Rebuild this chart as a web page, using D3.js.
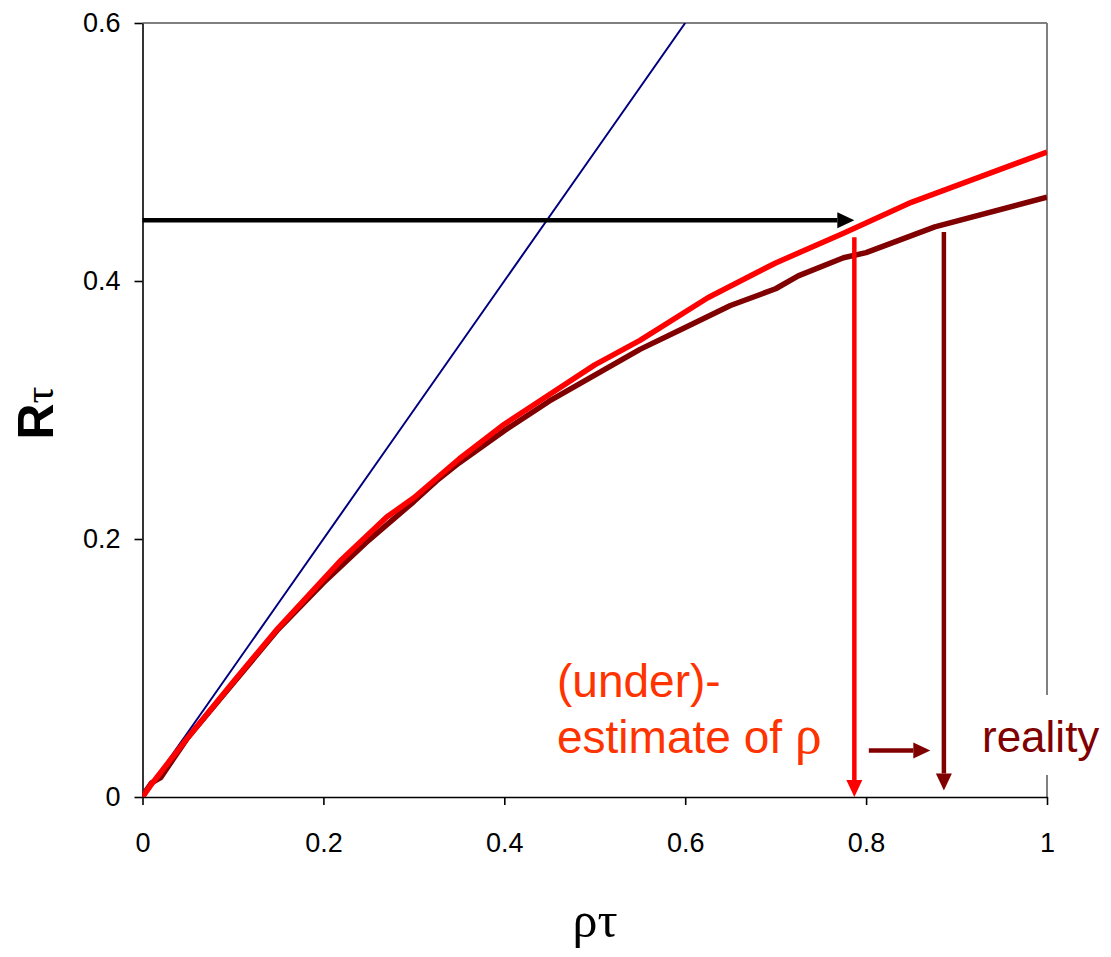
<!DOCTYPE html>
<html>
<head>
<meta charset="utf-8">
<script src="https://cdn.jsdelivr.net/npm/d3@7"></script>
<style>
  body { margin: 0; background: #fff; }
  svg { font-family: "Liberation Sans", Arial, sans-serif; }
</style>
</head>
<body>
<svg width="1111" height="957"></svg>
<script>
// DATA
const xTicks = [0, 0.2, 0.4, 0.6, 0.8, 1]
const yTicks = [0, 0.2, 0.4, 0.6]

// blue reference line (R = rho*tau)
const naive = [[0, 0], [0.07, 0.07], [0.15, 0.15], [0.25, 0.25], [0.35, 0.35], [0.4, 0.4], [0.5, 0.5], [0.6, 0.6]]

// red curve: estimate
const estimate = [[0, 0], [0.01, 0.01], [0.05, 0.046], [0.1, 0.089], [0.15, 0.131], [0.22, 0.184],
  [0.27, 0.217], [0.3, 0.232], [0.35, 0.262], [0.4, 0.289], [0.45, 0.312], [0.5, 0.335],
  [0.55, 0.354], [0.625, 0.387], [0.7, 0.414], [0.775, 0.437], [0.85, 0.461], [1, 0.5]]

// dark red curve: reality
const reality = [[0, 0], [0.005, 0.006], [0.01, 0.011], [0.02, 0.015], [0.05, 0.046], [0.1, 0.088],
  [0.15, 0.13], [0.2, 0.166], [0.25, 0.199], [0.3, 0.229], [0.325, 0.245], [0.35, 0.259],
  [0.4, 0.284], [0.45, 0.307], [0.5, 0.327], [0.55, 0.347], [0.6, 0.364], [0.65, 0.381],
  [0.7, 0.394], [0.725, 0.404], [0.775, 0.418], [0.8, 0.422], [0.876, 0.442], [1, 0.465]]

// annotation arrows: [x1, y1, x2, y2]
const arrows = [
  { from: [0, 0.447], to: [0.787, 0.447], color: "#000000" },
  { from: [0.787, 0.434], to: [0.787, 0.0], color: "#ff0000" },
  { from: [0.886, 0.438], to: [0.886, 0.005], color: "#800000" },
  { from: [0.803, 0.036], to: [0.871, 0.036], color: "#800000" }
]

// SETUP
const svg = d3.select("svg")

const scaleX = d3.scaleLinear().domain([0, 1]).range([142.5, 1047])
const scaleY = d3.scaleLinear().domain([0, 0.6]).range([797, 23])

const defs = svg.append("defs")
const clip = defs.append("clipPath").attr("id", "plot")
clip.append("rect")
  .attr("x", scaleX(0)).attr("y", scaleY(0.6))
  .attr("width", scaleX(1) - scaleX(0)).attr("height", scaleY(0) - scaleY(0.6))

// top and right frame (gray)
svg.append("line")
  .attr("x1", scaleX(0)).attr("x2", scaleX(1))
  .attr("y1", scaleY(0.6)).attr("y2", scaleY(0.6))
  .attr("stroke", "#808080").attr("stroke-width", 2)
svg.append("line")
  .attr("x1", scaleX(1)).attr("x2", scaleX(1))
  .attr("y1", scaleY(0.6)).attr("y2", scaleY(0))
  .attr("stroke", "#808080").attr("stroke-width", 2)

// axes
const axisX = d3.axisBottom(scaleX)
  .tickValues(xTicks)
  .tickSizeInner(8)
  .tickSizeOuter(0)
  .tickPadding(28)
  .tickFormat(d => d3.format("")(d))

const axisY = d3.axisLeft(scaleY)
  .tickValues(yTicks)
  .tickSizeInner(8)
  .tickSizeOuter(0)
  .tickPadding(14)
  .tickFormat(d => d3.format("")(d))

const gx = svg.append("g")
  .attr("transform", `translate(0, ${scaleY(0)})`)
  .call(axisX)
const gy = svg.append("g")
  .attr("transform", `translate(${scaleX(0)}, 0)`)
  .call(axisY)

svg.selectAll(".tick text")
  .attr("font-family", "'Liberation Sans', Arial, sans-serif")
  .attr("font-size", 27)
  .attr("fill", "#000")
svg.selectAll(".domain, .tick line")
  .attr("stroke", "#000").attr("stroke-width", 1.6)

// axis titles
svg.append("text")
  .attr("transform", `translate(53, 413) rotate(-90)`)
  .attr("text-anchor", "middle")
  .attr("fill", "#000")
  .call(t => {
    t.append("tspan").attr("font-size", 50).attr("font-weight", "bold").text("R")
    t.append("tspan").attr("font-size", 42).attr("font-family", "'Liberation Serif', serif").text("τ")
  })

svg.append("text")
  .attr("x", 595).attr("y", 937)
  .attr("text-anchor", "middle")
  .attr("font-family", "'Liberation Serif', 'DejaVu Serif', serif")
  .attr("font-size", 50)
  .attr("fill", "#000")
  .text("ρτ")

// LINES
const line = d3.line()
  .x(d => scaleX(d[0]))
  .y(d => scaleY(d[1]))

const plot = svg.append("g").attr("clip-path", "url(#plot)")

plot.append("path")
  .datum(naive)
  .attr("d", line)
  .attr("fill", "none")
  .attr("stroke", "#000080")
  .attr("stroke-width", 2)

plot.append("path")
  .datum(reality)
  .attr("d", line)
  .attr("fill", "none")
  .attr("stroke", "#800000")
  .attr("stroke-width", 5.5)
  .attr("stroke-linejoin", "round")

plot.append("path")
  .datum(estimate)
  .attr("d", line)
  .attr("fill", "none")
  .attr("stroke", "#ff0000")
  .attr("stroke-width", 5.5)
  .attr("stroke-linejoin", "round")

// ARROWS
const headLen = 17
const headHalf = 8
arrows.forEach(a => {
  const x1 = scaleX(a.from[0]), y1 = scaleY(a.from[1])
  const x2 = scaleX(a.to[0]), y2 = scaleY(a.to[1])
  const ang = Math.atan2(y2 - y1, x2 - x1)
  const bx = x2 - headLen * Math.cos(ang)
  const by = y2 - headLen * Math.sin(ang)
  svg.append("line")
    .attr("x1", x1).attr("y1", y1)
    .attr("x2", bx).attr("y2", by)
    .attr("stroke", a.color)
    .attr("stroke-width", 4.5)
  const px = -Math.sin(ang), py = Math.cos(ang)
  svg.append("path")
    .attr("d", `M${x2},${y2}L${bx + px * headHalf},${by + py * headHalf}L${bx - px * headHalf},${by - py * headHalf}Z`)
    .attr("fill", a.color)
})

// LABELS
svg.append("text")
  .attr("x", 557).attr("y", 697)
  .attr("font-size", 46)
  .attr("fill", "#ff3300")
  .text("(under)-")

svg.append("text")
  .attr("x", 557).attr("y", 753)
  .attr("font-size", 46)
  .attr("fill", "#ff3300")
  .call(t => {
    t.append("tspan").text("estimate of ")
    t.append("tspan").attr("font-family", "'Liberation Serif', serif").attr("font-size", 54).text("ρ")
  })

svg.append("rect")
  .attr("x", 976).attr("y", 695)
  .attr("width", 130).attr("height", 80)
  .attr("fill", "#fff")

svg.append("text")
  .attr("x", 982).attr("y", 752)
  .attr("font-size", 44)
  .attr("fill", "#800000")
  .text("reality")
</script>
</body>
</html>
